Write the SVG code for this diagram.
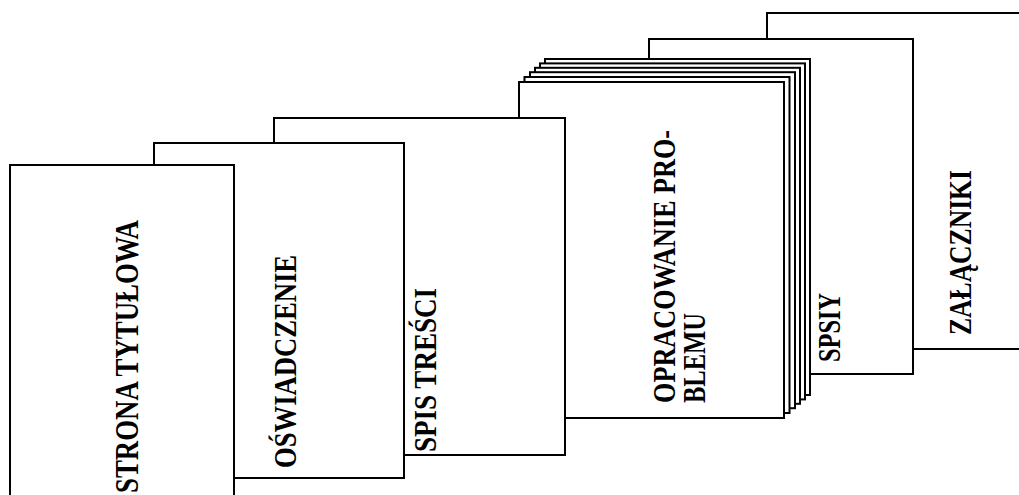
<svg xmlns="http://www.w3.org/2000/svg" width="1019" height="495" viewBox="0 0 1019 495">
<style>
.pg{fill:#fff;stroke:#000;stroke-width:2}
.t{font-family:"Liberation Serif","Times New Roman",serif;font-weight:bold;font-size:31px;fill:#000}
</style>
<rect x="0" y="0" width="1019" height="495" fill="#fff"/>
<g id="zalaczniki">
<rect class="pg" x="767" y="13" width="270" height="336"/>
<text class="t" transform="translate(971,335) rotate(-90)" textLength="165" lengthAdjust="spacingAndGlyphs">ZAŁĄCZNIKI</text>
</g>
<g id="spisy">
<rect class="pg" x="649" y="39" width="264" height="335"/>
<text class="t" transform="translate(840,362) rotate(-90)" textLength="69" lengthAdjust="spacingAndGlyphs">SPSIY</text>
</g>
<g id="opracowanie">
<rect class="pg" x="545" y="59" width="265" height="336"/>
<rect class="pg" x="540" y="63.4" width="265" height="336"/>
<rect class="pg" x="535" y="67.8" width="265" height="336"/>
<rect class="pg" x="530" y="72.2" width="265" height="336"/>
<rect class="pg" x="524.5" y="77" width="265" height="336"/>
<rect class="pg" x="519" y="82" width="265" height="336"/>
<text class="t" transform="translate(675,403) rotate(-90)" textLength="273" lengthAdjust="spacingAndGlyphs">OPRACOWANIE PRO-</text>
<text class="t" transform="translate(705,403) rotate(-90)" textLength="90" lengthAdjust="spacingAndGlyphs">BLEMU</text>
</g>
<g id="spis-tresci">
<rect class="pg" x="274" y="118" width="291" height="337"/>
<text class="t" transform="translate(436,452) rotate(-90)" textLength="164" lengthAdjust="spacingAndGlyphs">SPIS TREŚCI</text>
</g>
<g id="oswiadczenie">
<rect class="pg" x="154" y="143" width="250" height="335"/>
<text class="t" transform="translate(296,468) rotate(-90)" textLength="213" lengthAdjust="spacingAndGlyphs">OŚWIADCZENIE</text>
</g>
<g id="strona-tytulowa">
<rect class="pg" x="10" y="165" width="224" height="345"/>
<text class="t" style="font-size:33px" transform="translate(138,493) rotate(-90)" textLength="273" lengthAdjust="spacingAndGlyphs">STRONA TYTUŁOWA</text>
</g>
<g id="connectors"/>
</svg>
